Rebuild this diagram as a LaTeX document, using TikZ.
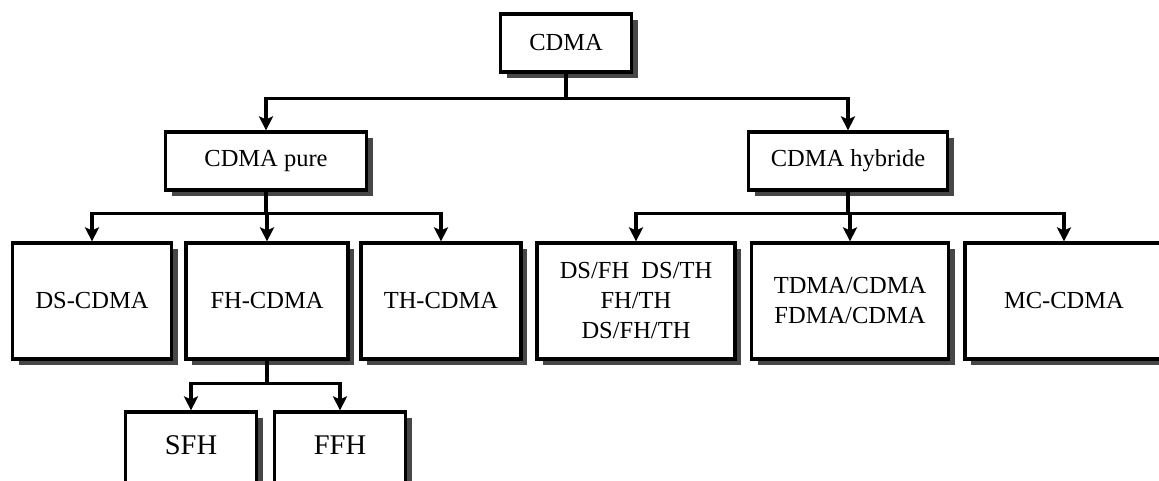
\documentclass[tikz,border=0pt]{standalone}
\usepackage{fontspec}
\setmainfont{Liberation Serif}
\usetikzlibrary{arrows.meta,shadows}

\tikzset{
  box/.style={draw=black, line width=3.2pt, fill=white, inner sep=0pt,
    align=center, font=\fontsize{24.5}{30}\selectfont,
    drop shadow={shadow xshift=6pt, shadow yshift=-6pt, fill=black!72, opacity=1}},
  smallbox/.style={box, minimum height=58pt},
  leafbox/.style={box, minimum height=116pt},
  subbox/.style={box, minimum height=100pt, text depth=34pt,
    font=\fontsize{28.5}{32}\selectfont},
  conn/.style={line width=3.2pt, draw=black,
    -{Stealth[length=14pt, width=14pt, inset=3pt]}},
}

\begin{document}
\begin{tikzpicture}[x=1pt, y=-1pt]
  \useasboundingbox (0,0) rectangle (1159,480);
  \clip (0,0) rectangle (1159,480);
  \fill[white] (0,0) rectangle (1159,480);

  % root
  \node[smallbox, minimum width=131pt] (cdma) at (566,43) {CDMA};

  % first level
  \node[smallbox, minimum width=201pt] (pure) at (266,161) {CDMA pure};
  \node[smallbox, minimum width=199pt] (hyb)  at (848,161) {CDMA hybride};

  % pure CDMA techniques
  \node[leafbox, minimum width=159pt] (ds) at (92,301)  {DS-CDMA};
  \node[leafbox, minimum width=162pt] (fh) at (267,301) {FH-CDMA};
  \node[leafbox, minimum width=160pt] (th) at (441,301) {TH-CDMA};

  % hybrid CDMA techniques
  \node[leafbox, minimum width=198pt] (dsfh) at (636,301)
    {DS/FH\hspace{0.5em}DS/TH\\FH/TH\\DS/FH/TH};
  \node[leafbox, minimum width=197pt] (tdma) at (850,301)
    {TDMA/CDMA\\FDMA/CDMA};
  \node[leafbox, minimum width=198pt] (mc) at (1064,301) {MC-CDMA};

  % frequency hopping variants
  \node[subbox, minimum width=131pt] (sfh) at (191,462) {SFH};
  \node[subbox, minimum width=131pt] (ffh) at (340,462) {FFH};

  % connectors
  \draw[conn] (cdma.south) -- ++(0,25) -| (pure.north);
  \draw[conn] (cdma.south) -- ++(0,25) -| (hyb.north);

  \draw[conn] (pure.south) -- ++(0,22) -| (ds.north);
  \draw[conn] (pure.south) -- ++(0,22) -| (fh.north);
  \draw[conn] (pure.south) -- ++(0,22) -| (th.north);

  \draw[conn] (hyb.south) -- ++(0,22) -| (dsfh.north);
  \draw[conn] (hyb.south) -- ++(0,22) -| (tdma.north);
  \draw[conn] (hyb.south) -- ++(0,22) -| (mc.north);

  \draw[conn] (fh.south) -- ++(0,23) -| (sfh.north);
  \draw[conn] (fh.south) -- ++(0,23) -| (ffh.north);
\end{tikzpicture}
\end{document}
